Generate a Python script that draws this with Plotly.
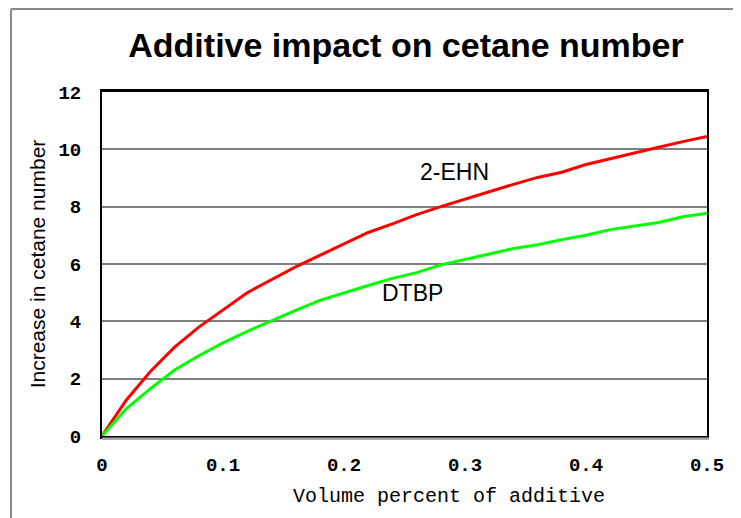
import plotly.graph_objects as go

volume = [0.00, 0.02, 0.04, 0.06, 0.08, 0.10, 0.12, 0.14, 0.16, 0.18, 0.20, 0.22, 0.24,
          0.26, 0.28, 0.30, 0.32, 0.34, 0.36, 0.38, 0.40, 0.42, 0.44, 0.46, 0.48, 0.50]
ehn = [0.0, 1.25, 2.25, 3.1, 3.8, 4.4, 5.0, 5.45, 5.9, 6.3, 6.7, 7.1, 7.4,
       7.72, 8.0, 8.27, 8.52, 8.78, 9.02, 9.2, 9.47, 9.67, 9.86, 10.07, 10.27, 10.45]
dtbp = [0.0, 0.95, 1.65, 2.3, 2.8, 3.25, 3.65, 4.02, 4.38, 4.73, 5.0, 5.25, 5.5,
        5.7, 5.97, 6.17, 6.35, 6.54, 6.67, 6.85, 7.0, 7.2, 7.32, 7.45, 7.65, 7.77]
x_ticks = [0, 0.1, 0.2, 0.3, 0.4, 0.5]
x_tick_labels = ["0", "0.1", "0.2", "0.3", "0.4", "0.5"]
y_ticks = [0, 2, 4, 6, 8, 10, 12]

fig = go.Figure()
fig.add_trace(go.Scatter(x=volume, y=ehn, mode="lines", name="2-EHN",
                         line=dict(color="#ff0000", width=3)))
fig.add_trace(go.Scatter(x=volume, y=dtbp, mode="lines", name="DTBP",
                         line=dict(color="#00ff00", width=3)))

fig.add_annotation(x=0.291, y=9.21, text="2-EHN", showarrow=False,
                   font=dict(family="Liberation Sans, Arial", size=23, color="black"))
fig.add_annotation(x=0.257, y=4.99, text="DTBP", showarrow=False,
                   font=dict(family="Liberation Sans, Arial", size=23, color="black"))
# x-axis title (placed right of centre as in the original)
fig.add_annotation(xref="paper", yref="paper", x=(449 - 102) / 605, y=-(496 - 436) / 344,
                   yanchor="middle", xanchor="center", showarrow=False,
                   text="Volume percent of additive",
                   font=dict(family="Liberation Mono, Courier New", size=20, color="black"))

# outer frame (gray) and bottom shadow
fig.add_shape(type="line", xref="paper", yref="paper", x0=-0.1504, x1=1.2, y0=1.241, y1=1.241,
              line=dict(color="#888888", width=2))
fig.add_shape(type="line", xref="paper", yref="paper", x0=-0.1504, x1=-0.1504, y0=1.241, y1=-0.3,
              line=dict(color="#888888", width=2))
fig.add_shape(type="line", xref="paper", yref="paper", x0=0.0, x1=1.003, y0=-0.008, y1=-0.008,
              line=dict(color="#aaaaaa", width=2.5))

fig.update_layout(
    width=733, height=510,
    margin=dict(l=94, r=34, t=84, b=82),
    paper_bgcolor="white", plot_bgcolor="white",
    showlegend=False,
    title=dict(text="<b>Additive impact on cetane number</b>", x=0.543, xanchor="center",
               y=0.927, yanchor="middle",
               font=dict(family="Liberation Sans, Arial", size=34, color="black")),
    xaxis=dict(range=[0, 0.5], tickvals=x_ticks, ticktext=x_tick_labels,
               showgrid=False, zeroline=False,
               showline=True, linecolor="black", linewidth=2.5, mirror=True,
               ticks="outside", ticklen=0, ticklabelstandoff=9,
               tickfont=dict(family="Liberation Mono, Courier New", size=19, color="black", weight="bold")),
    yaxis=dict(range=[0, 12], tickvals=y_ticks,
               showgrid=True, gridcolor="#808080", gridwidth=1.5, zeroline=False,
               showline=True, linecolor="black", linewidth=2, mirror=True,
               ticks="outside", ticklen=0, ticklabelstandoff=15,
               tickfont=dict(family="Liberation Mono, Courier New", size=19, color="black", weight="bold"),
               title=dict(text="Increase in cetane number", standoff=7,
                          font=dict(family="Liberation Sans, Arial", size=21, color="black"))),
)

fig.write_html("out.html")
